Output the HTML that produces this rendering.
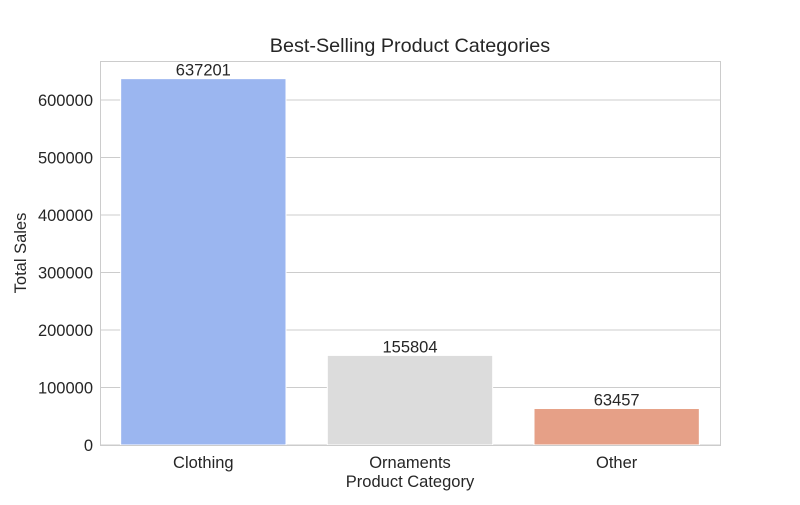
<!DOCTYPE html>
<html><head><meta charset="utf-8"><style>
body{margin:0;background:#fff;}
svg text{font-family:"Liberation Sans","DejaVu Sans",sans-serif;fill:#262626;}
</style></head><body>
<svg id="chart" width="800" height="500">
<rect x="0" y="0" width="800" height="500" fill="#fff"/>
<text x="410" y="52" font-size="19.8" text-anchor="middle">Best-Selling Product Categories</text>
<g id="grid"></g><g id="bars"></g><g id="labels"></g>
<rect x="100.5" y="61.5" width="620" height="384" fill="none" stroke="#ccc" stroke-width="1"/>
<text x="410" y="487" font-size="16.5" text-anchor="middle">Product Category</text>
<text transform="translate(26,253) rotate(-90)" font-size="16.5" text-anchor="middle">Total Sales</text>
</svg>
<script>
const categories=["Clothing","Ornaments","Other"];
const sales=[637201,155804,63457];
const colors=["#9bb6f0","#dcdcdc","#e6a087"];
const yTicks=[0,100000,200000,300000,400000,500000,600000];
const ns="http://www.w3.org/2000/svg";
const L=100,R=720,T=61,B=445,yMax=667900;
const y=v=>B-(v/yMax)*(B-T);
const band=(R-L)/categories.length;
const xc=i=>L+band*(i+0.5);
function mk(tag,attrs,parent,txt){const e=document.createElementNS(ns,tag);for(const k in attrs)e.setAttribute(k,attrs[k]);if(txt!==undefined)e.textContent=txt;document.getElementById(parent).appendChild(e);return e;}
yTicks.forEach(t=>{
 const l=mk("line",{x1:L,x2:R,y1:y(t),y2:y(t),stroke:"#cccccc","stroke-width":1},"grid");
 
 
 const tx=mk("text",{x:L-7,y:y(t)+6,"font-size":16.5,"text-anchor":"end"},"grid",String(t));
 
 
});
categories.forEach((c,i)=>{
 const w=band*0.8;
 const r=mk("rect",{x:xc(i)-w/2,y:y(sales[i]),width:w,height:B-y(sales[i]),fill:colors[i],stroke:"#fff","stroke-width":1},"bars");
 
 
 const v=mk("text",{x:xc(i),y:y(sales[i])-3,"font-size":16.5,"text-anchor":"middle"},"labels",String(sales[i]));
 
 
 const xl=mk("text",{x:xc(i),y:B+23,"font-size":16.5,"text-anchor":"middle"},"labels",c);
 
 
});
</script>
</body></html>
